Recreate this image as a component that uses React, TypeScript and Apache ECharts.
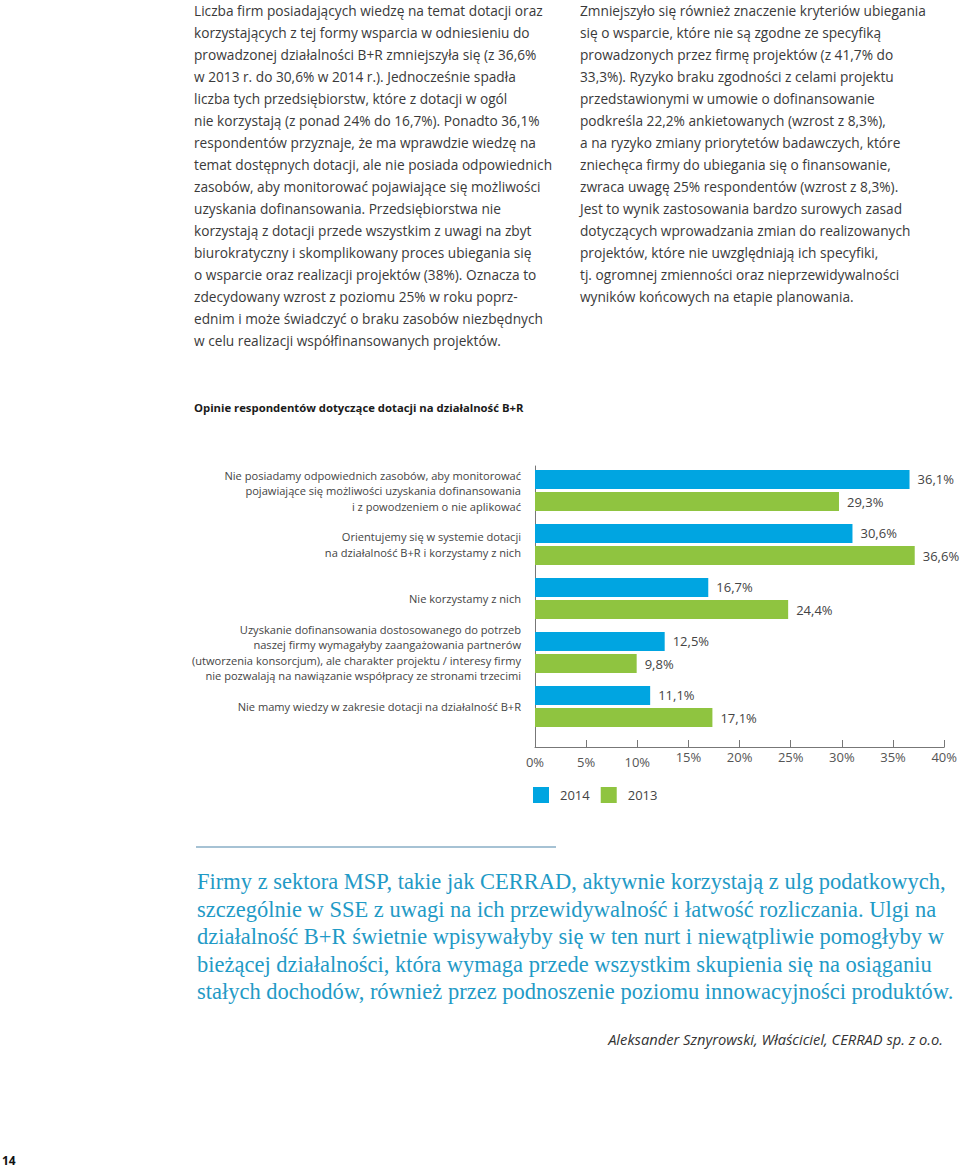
import React, { useEffect, useRef } from "react";
import * as echarts from "echarts";

const leftColumn = [
  "Liczba firm posiadających wiedzę na temat dotacji oraz",
  "korzystających z tej formy wsparcia w odniesieniu do",
  "prowadzonej działalności B+R zmniejszyła się (z 36,6%",
  "w 2013 r. do 30,6% w 2014 r.). Jednocześnie spadła",
  "liczba tych przedsiębiorstw, które z dotacji w ogól",
  "nie korzystają (z ponad 24% do 16,7%). Ponadto 36,1%",
  "respondentów przyznaje, że ma wprawdzie wiedzę na",
  "temat dostępnych dotacji, ale nie posiada odpowiednich",
  "zasobów, aby monitorować pojawiające się możliwości",
  "uzyskania dofinansowania. Przedsiębiorstwa nie",
  "korzystają z dotacji przede wszystkim z uwagi na zbyt",
  "biurokratyczny i skomplikowany proces ubiegania się",
  "o wsparcie oraz realizacji projektów (38%). Oznacza to",
  "zdecydowany wzrost z poziomu 25% w roku poprz-",
  "ednim i może świadczyć o braku zasobów niezbędnych",
  "w celu realizacji współfinansowanych projektów.",
];

const rightColumn = [
  "Zmniejszyło się również znaczenie kryteriów ubiegania",
  "się o wsparcie, które nie są zgodne ze specyfiką",
  "prowadzonych przez firmę projektów (z 41,7% do",
  "33,3%). Ryzyko braku zgodności z celami projektu",
  "przedstawionymi w umowie o dofinansowanie",
  "podkreśla 22,2% ankietowanych (wzrost z 8,3%),",
  "a na ryzyko zmiany priorytetów badawczych, które",
  "zniechęca firmy do ubiegania się o finansowanie,",
  "zwraca uwagę 25% respondentów (wzrost z 8,3%).",
  "Jest to wynik zastosowania bardzo surowych zasad",
  "dotyczących wprowadzania zmian do realizowanych",
  "projektów, które nie uwzględniają ich specyfiki,",
  "tj. ogromnej zmienności oraz nieprzewidywalności",
  "wyników końcowych na etapie planowania.",
];

const chartTitle = "Opinie respondentów dotyczące dotacji na działalność B+R";

const categories = [
  "Nie posiadamy odpowiednich zasobów, aby monitorować\npojawiające się możliwości uzyskania dofinansowania\ni z powodzeniem o nie aplikować",
  "Orientujemy się w systemie dotacji\nna działalność B+R i korzystamy z nich",
  "Nie korzystamy z nich",
  "Uzyskanie dofinansowania dostosowanego do potrzeb\nnaszej firmy wymagałyby zaangażowania partnerów\n(utworzenia konsorcjum), ale charakter projektu / interesy firmy\nnie pozwalają na nawiązanie współpracy ze stronami trzecimi",
  "Nie mamy wiedzy w zakresie dotacji na działalność B+R",
];

const values2014 = [36.1, 30.6, 16.7, 12.5, 11.1];
const values2013 = [29.3, 36.6, 24.4, 9.8, 17.1];
const seriesNames = ["2014", "2013"];

const quoteLines = [
  "Firmy z sektora MSP, takie jak CERRAD, aktywnie korzystają z ulg podatkowych,",
  "szczególnie w SSE z uwagi na ich przewidywalność i łatwość rozliczania. Ulgi na",
  "działalność B+R świetnie wpisywałyby się w ten nurt i niewątpliwie pomogłyby w",
  "bieżącej działalności, która wymaga przede wszystkim skupienia się na osiąganiu",
  "stałych dochodów, również przez podnoszenie poziomu innowacyjności produktów.",
];

const attribution = "Aleksander Sznyrowski, Właściciel, CERRAD sp. z o.o.";
const pageNumber = "14";

const BLUE = "#00a5e1";
const GREEN = "#8fc440";
const SANS = "Open Sans";

const fmt = (v: number) => v.toFixed(1).replace(".", ",") + "%";

export default function App() {
  const ref = useRef<HTMLDivElement>(null);
  useEffect(() => {
    if (!ref.current) return;
    const chart = echarts.init(ref.current, null, { renderer: "svg" });
    const labelStyle = {
      show: true,
      position: "right" as const,
      distance: 8,
      fontFamily: SANS,
      fontSize: 13,
      color: "#444",
      formatter: (p: any) => fmt(p.value),
    };
    chart.setOption({
      animation: false,
      backgroundColor: "#fff",
      textStyle: { fontFamily: SANS },
      legend: {
        data: seriesNames,
        left: 528,
        top: 782,
        icon: "rect",
        itemWidth: 16,
        itemHeight: 16,
        itemGap: 11,
        textStyle: { fontFamily: SANS, fontSize: 13, color: "#444", padding: [0, 0, 0, 6] },
        selectedMode: false,
      },
      grid: [
        { left: 535, top: 463.5, width: 415, height: 270, containLabel: false },
        { left: 535, top: 466, width: 415, height: 281, containLabel: false },
      ],
      xAxis: [
        { gridIndex: 0, type: "value", min: 0, max: 40, interval: 5, show: false },
        {
          gridIndex: 1,
          type: "value",
          min: 0,
          max: 40,
          interval: 5,
          axisLine: { show: true, lineStyle: { color: "#777", width: 1 } },
          axisTick: { show: true, inside: true, length: 7, lineStyle: { color: "#777" } },
          splitLine: { show: false },
          axisLabel: {
            margin: 3,
            fontFamily: SANS,
            fontSize: 13,
            color: "#555",
            formatter: (v: number) => (v <= 10 ? `{lo|${v}%}` : `{hi|${v}%}`),
            rich: {
              lo: { fontFamily: SANS, fontSize: 13, color: "#555", padding: [5, 0, 0, 0] },
              hi: { fontFamily: SANS, fontSize: 13, color: "#555" },
            },
          },
        },
      ],
      yAxis: [
        {
          gridIndex: 0,
          type: "category",
          inverse: true,
          data: categories,
          axisLine: { show: false },
          axisTick: { show: false },
          axisLabel: {
            margin: 14,
            fontFamily: SANS,
            fontSize: 11.1,
            lineHeight: 15.5,
            color: "#444",
            align: "right",
          },
        },
        {
          gridIndex: 1,
          type: "value",
          axisLine: { show: true, lineStyle: { color: "#777", width: 1 } },
          axisTick: { show: false },
          axisLabel: { show: false },
          splitLine: { show: false },
        },
      ],
      series: [
        {
          name: seriesNames[0],
          type: "bar",
          xAxisIndex: 0,
          yAxisIndex: 0,
          data: values2014,
          barWidth: 19,
          barGap: "16%",
          itemStyle: { color: BLUE },
          label: labelStyle,
        },
        {
          name: seriesNames[1],
          type: "bar",
          xAxisIndex: 0,
          yAxisIndex: 0,
          data: values2013,
          barWidth: 19,
          barGap: "16%",
          itemStyle: { color: GREEN },
          label: labelStyle,
        },
      ],
      graphic: [
        {
          type: "text",
          x: 194,
          y: -1,
          style: {
            text: leftColumn.join("\n"),
            font: `13.7px "${SANS}"`,
            lineHeight: 22,
            fill: "#3a3a3a",
            verticalAlign: "top",
          },
        },
        {
          type: "text",
          x: 580,
          y: -1,
          style: {
            text: rightColumn.join("\n"),
            font: `13.7px "${SANS}"`,
            lineHeight: 22,
            fill: "#3a3a3a",
            verticalAlign: "top",
          },
        },
        {
          type: "text",
          x: 194,
          y: 407,
          style: {
            text: chartTitle,
            font: `bold 11.3px "${SANS}"`,
            fill: "#1a1a1a",
            verticalAlign: "middle",
          },
        },
        {
          type: "line",
          shape: { x1: 196, y1: 847, x2: 556, y2: 847 },
          style: { stroke: "#a6c2d4", lineWidth: 2 },
        },
        {
          type: "text",
          x: 197,
          y: 868,
          style: {
            text: quoteLines.join("\n"),
            font: `22.5px "Liberation Serif"`,
            lineHeight: 27.5,
            fill: "#1f9ac6",
            verticalAlign: "top",
          },
        },
        {
          type: "text",
          x: 943,
          y: 1039,
          style: {
            text: attribution,
            font: `italic 14.7px "${SANS}"`,
            fill: "#333",
            align: "right",
            verticalAlign: "middle",
          },
        },
        {
          type: "text",
          x: 2,
          y: 1160,
          style: {
            text: pageNumber,
            font: `bold 12px "${SANS}"`,
            fill: "#111",
            verticalAlign: "middle",
          },
        },
      ],
    });
    return () => chart.dispose();
  }, []);
  return (
    <div
      ref={ref}
      style={{ position: "absolute", left: 0, top: 0, width: 960, height: 1169 }}
    />
  );
}
